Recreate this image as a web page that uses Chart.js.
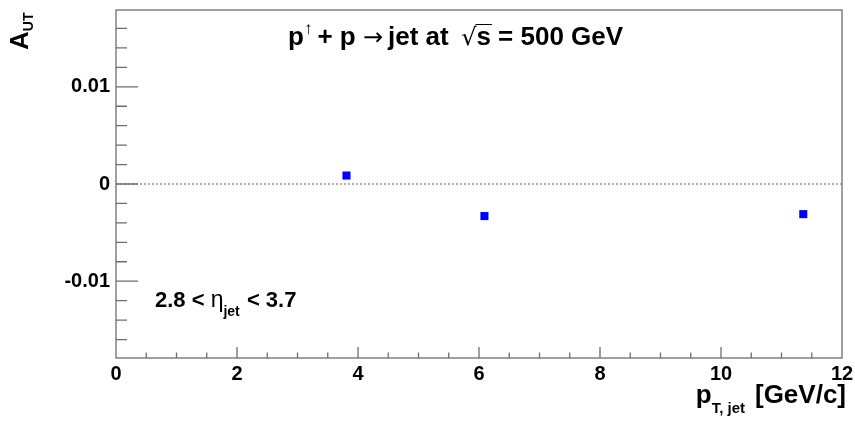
<!DOCTYPE html>
<html>
<head>
<meta charset="utf-8">
<script src="https://cdn.jsdelivr.net/npm/chart.js@4"></script>
<style>
  html, body { margin: 0; padding: 0; background: #fff; }
</style>
</head>
<body>
<canvas id="myChart" width="855" height="422"></canvas>
<script>
// A_UT vs jet pT, 2.8 < eta < 3.7
var ptJet = [3.81, 6.09, 11.36];
var aut = [0.00087, -0.0033, -0.0031];
var xTicks = [0, 2, 4, 6, 8, 10, 12];
var yTicks = [-0.01, 0, 0.01];
var yTickLabels = ['-0.01', '0', '0.01'];

var FONT = '"Liberation Sans", Arial, Helvetica, sans-serif';
var frameColor = '#6e6e6e';

// draws a run of text pieces, returns end x
function drawRun(ctx, x, y, pieces) {
    pieces.forEach(function (p) {
        ctx.font = (p.weight || 'bold') + ' ' + p.size + 'px ' + (p.family || FONT);
        ctx.fillText(p.text, x, y + (p.dy || 0));
        x += ctx.measureText(p.text).width + (p.gap || 0);
    });
    return x;
}

function runWidth(ctx, pieces) {
    var w = 0;
    pieces.forEach(function (p) {
        ctx.font = (p.weight || 'bold') + ' ' + p.size + 'px ' + (p.family || FONT);
        w += ctx.measureText(p.text).width + (p.gap || 0);
    });
    return w;
}

var rootStyle = {
    id: 'rootStyle',
    beforeDatasetsDraw: function (chart) {
        var ctx = chart.ctx, a = chart.chartArea, y0 = chart.scales.y.getPixelForValue(0);
        ctx.save();
        ctx.strokeStyle = '#999';
        ctx.lineWidth = 1.5;
        ctx.setLineDash([2, 2]);
        ctx.beginPath();
        ctx.moveTo(a.left, y0);
        ctx.lineTo(a.right, y0);
        ctx.stroke();
        ctx.restore();
    },
    afterDatasetsDraw: function (chart) {
        var ctx = chart.ctx, a = chart.chartArea;
        var xs = chart.scales.x, ys = chart.scales.y;
        ctx.save();
        ctx.strokeStyle = frameColor;
        ctx.lineWidth = 1.3;
        ctx.strokeRect(a.left, a.top, a.right - a.left, a.bottom - a.top);

        // y ticks (minor every 0.002)
        ctx.beginPath();
        for (var i = -9; i <= 9; i++) {
            var py = ys.getPixelForValue(i * 0.002);
            if (py < a.top + 1 || py > a.bottom - 1) continue;
            var len = (i % 5 === 0) ? 22 : 11;
            ctx.moveTo(a.left, py);
            ctx.lineTo(a.left + len, py);
        }
        // x ticks (minor every 0.5)
        for (var j = 1; j < 24; j++) {
            var px = xs.getPixelForValue(j * 0.5);
            var l = (j % 4 === 0) ? 11 : 5.5;
            ctx.moveTo(px, a.bottom);
            ctx.lineTo(px, a.bottom - l);
        }
        ctx.stroke();

        ctx.fillStyle = '#000';
        ctx.textBaseline = 'alphabetic';
        ctx.textAlign = 'left';

        // title
        var x = drawRun(ctx, 288, 44.5, [
            { text: 'p', size: 26 },
            { text: '\u2191', size: 17, weight: 'normal', dy: -11, gap: 5 },
            { text: '+ p ', size: 26 },
            { text: '\u2192', size: 24, weight: 'normal', family: '"DejaVu Sans"', gap: 5 },
            { text: 'jet at  ', size: 26 }
        ]);
        ctx.font = 'normal 24px "DejaVu Sans"';
        ctx.fillText('\u221A', x - 2, 44.5);
        var sx = x - 2 + ctx.measureText('\u221A').width;
        ctx.font = 'bold 26px ' + FONT;
        var sw = ctx.measureText('s').width;
        ctx.fillText('s', sx, 44.5);
        ctx.beginPath();
        ctx.lineWidth = 1;
        ctx.strokeStyle = '#000';
        ctx.moveTo(sx - 1, 24.5);
        ctx.lineTo(sx + sw + 1, 24.5);
        ctx.stroke();
        drawRun(ctx, sx + sw, 44.5, [{ text: ' = 500 GeV', size: 26 }]);

        // eta range
        drawRun(ctx, 155, 307, [
            { text: '2.8 < ', size: 22 },
            { text: '\u03B7', size: 23, weight: 'normal' },
            { text: 'jet', size: 14, dy: 9, gap: 1 },
            { text: ' < 3.7', size: 22 }
        ]);

        // x title
        var xt = [
            { text: 'p', size: 26 },
            { text: 'T, jet', size: 15, dy: 10, gap: 10 },
            { text: '[GeV/c]', size: 26 }
        ];
        drawRun(ctx, 846 - runWidth(ctx, xt), 403, xt);

        // y title
        ctx.translate(28, 50);
        ctx.rotate(-Math.PI / 2);
        drawRun(ctx, 0, 0, [
            { text: 'A', size: 26 },
            { text: 'UT', size: 14, dy: 5 }
        ]);
        ctx.restore();
    }
};

var ctx = document.getElementById('myChart').getContext('2d');
var myChart = new Chart(ctx, {
    type: 'scatter',
    data: {
        datasets: [{
            label: 'A_UT',
            data: ptJet.map(function (v, i) { return { x: v, y: aut[i] }; }),
            pointStyle: 'rect',
            pointRadius: 5.7,
            borderWidth: 0,
            backgroundColor: '#0000ff'
        }]
    },
    options: {
        responsive: false,
        animation: false,
        events: [],
        layout: { padding: { top: 10, right: 13, left: 0, bottom: 0 } },
        plugins: {
            legend: { display: false },
            tooltip: { enabled: false }
        },
        scales: {
            x: {
                type: 'linear',
                min: 0,
                max: 12,
                afterBuildTicks: function (s) { s.ticks = xTicks.map(function (v) { return { value: v }; }); },
                afterFit: function (s) { s.height = 64; s.paddingLeft = 0; s.paddingRight = 0; },
                ticks: {
                    font: { family: FONT, size: 20, weight: 'bold' },
                    color: '#000',
                    padding: 4,
                    maxRotation: 0,
                    autoSkip: false,
                    callback: function (v) { return String(v); }
                },
                grid: { display: false, drawTicks: false },
                border: { display: false }
            },
            y: {
                min: -0.0179,
                max: 0.0179,
                afterBuildTicks: function (s) { s.ticks = yTicks.map(function (v) { return { value: v }; }); },
                afterFit: function (s) { s.width = 116; s.paddingTop = 0; s.paddingBottom = 0; },
                ticks: {
                    font: { family: FONT, size: 20, weight: 'bold' },
                    color: '#000',
                    padding: 6,
                    autoSkip: false,
                    callback: function (v, i) { return yTickLabels[i]; }
                },
                grid: { display: false, drawTicks: false },
                border: { display: false }
            }
        }
    },
    plugins: [rootStyle]
});
</script>
</body>
</html>
